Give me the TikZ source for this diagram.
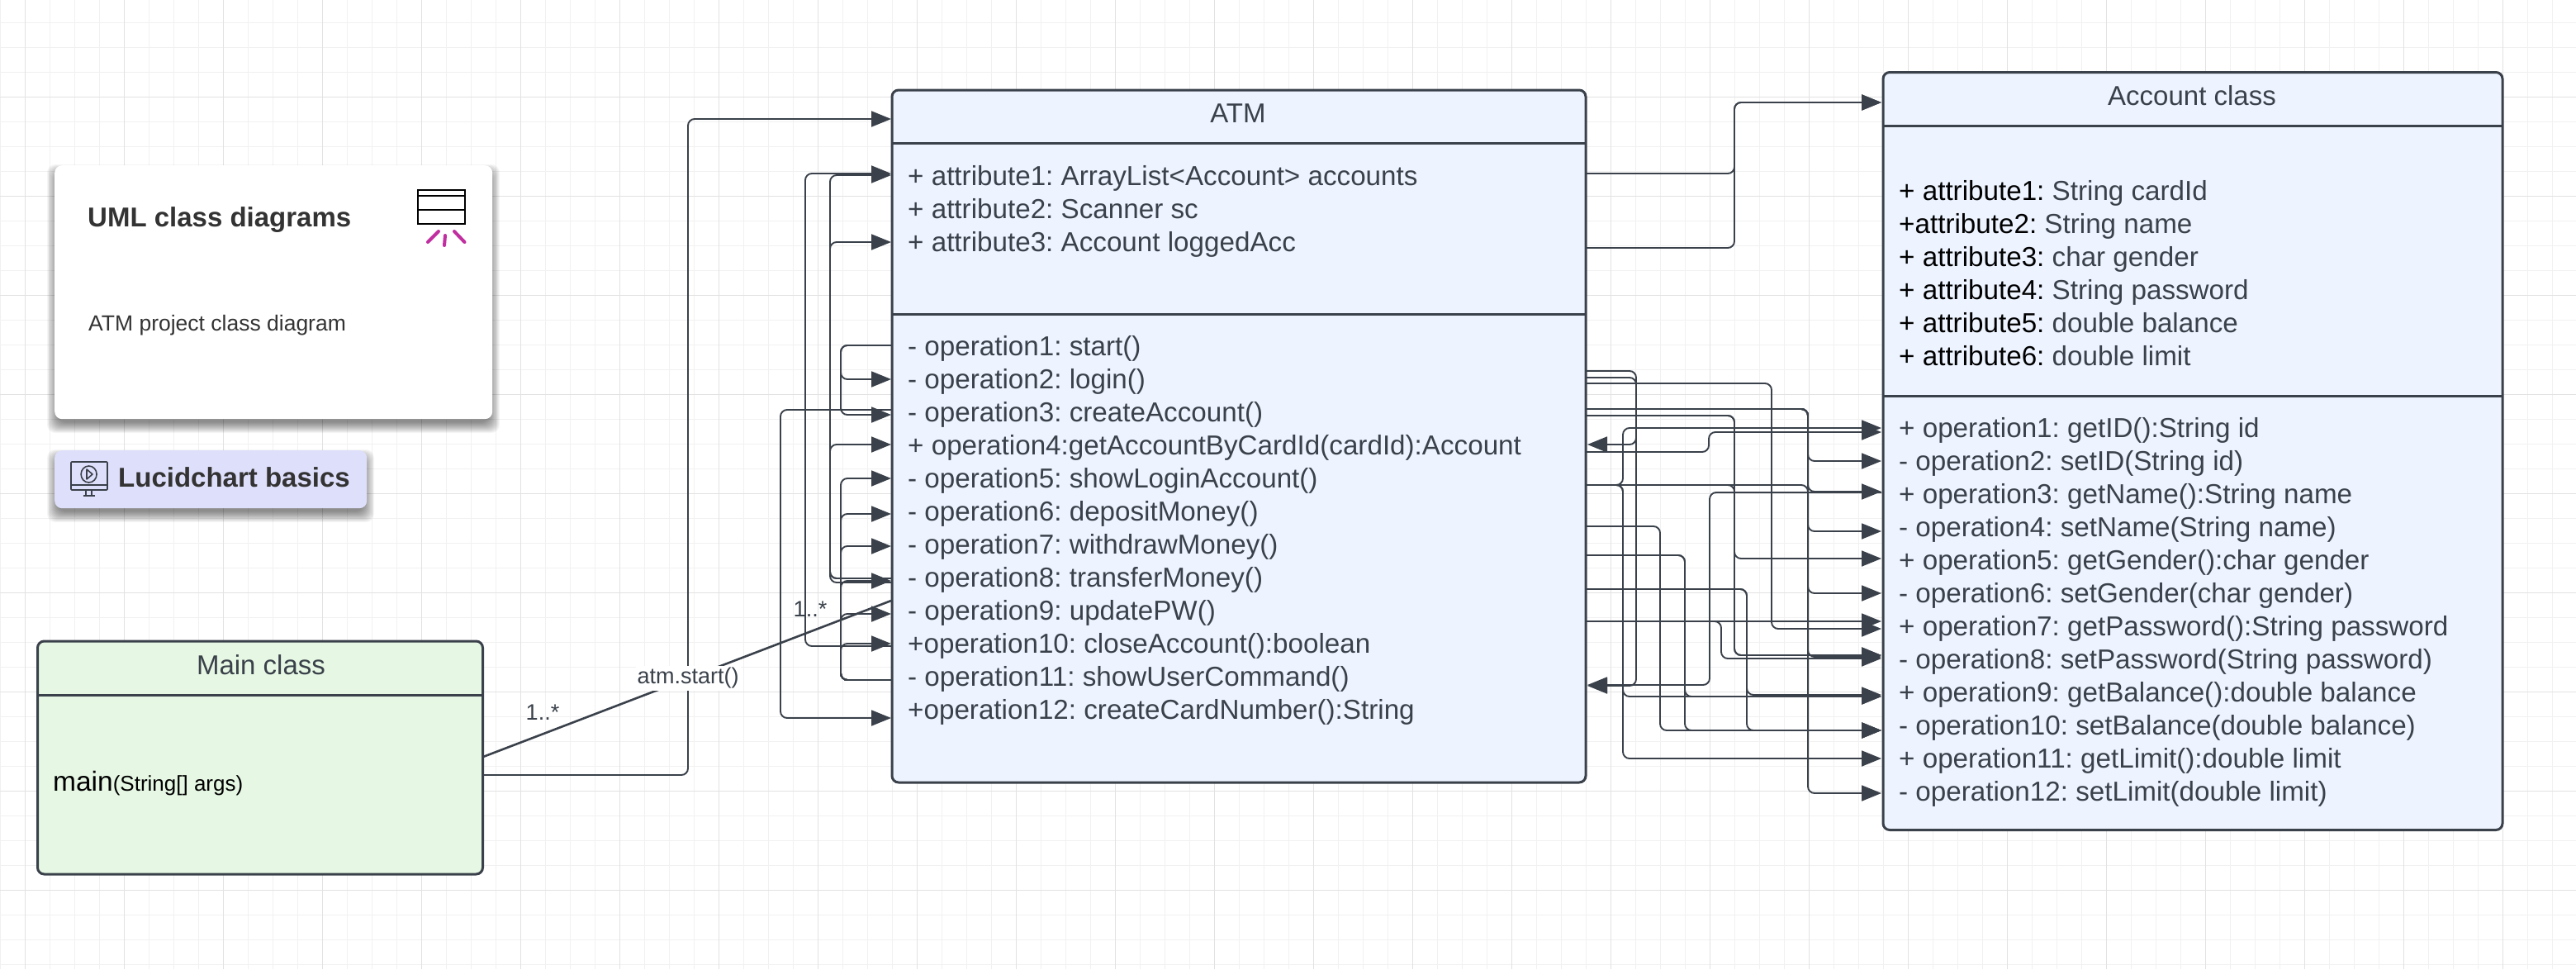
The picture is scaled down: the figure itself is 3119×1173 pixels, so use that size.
\documentclass[tikz,border=0pt]{standalone}
\usepackage{fontspec}
\setmainfont{Liberation Sans}
\frenchspacing
\usetikzlibrary{arrows.meta}
\definecolor{ink}{HTML}{3A414A}
\definecolor{gridmin}{HTML}{F1F1F1}
\definecolor{gridmaj}{HTML}{E2E2E2}
\definecolor{bluefill}{HTML}{EDF4FF}
\definecolor{greenfill}{HTML}{E6F8E4}
\definecolor{lavender}{HTML}{DEDFFA}
\definecolor{magentaish}{HTML}{C02EA0}
\definecolor{darktext}{HTML}{333333}
\newcommand{\fs}[1]{\fontsize{#1}{#1}\selectfont}
\newcommand{\softshadow}[4]{%
  \foreach \k in {0,...,13}{
    \pgfmathsetmacro{\e}{9-\k*1.0}
    \fill[black,fill opacity=.04,rounded corners=10pt]
      (#1-\e,#2-\e+8) rectangle (#3+\e,#4+\e+8);
  }}
\tikzset{
  classbox/.style={draw=ink,line width=3pt,rounded corners=8pt,anchor=north west,inner sep=0pt,outer sep=0pt},
  divider/.style={draw=ink,line width=3pt},
  rowtext/.style={anchor=base west,inner sep=0pt,text=ink,font=\fs{33.2}},
  titletext/.style={anchor=base,inner sep=0pt,text=ink,font=\fs{33}},
  conn/.style={draw=ink,line width=1.9pt,rounded corners=8pt},
  connar/.style={conn,-{Triangle[length=24pt,width=19pt]},fill=none},
  assoc/.style={draw=ink,line width=2.6pt},
  edgelabel/.style={inner sep=2pt,text=ink,font=\fs{27}},
}
\begin{document}
\begin{tikzpicture}[x=1pt,y=-1pt]
\useasboundingbox (0,0) rectangle (3119,1173);
\fill[white] (0,0) rectangle (3119,1173);
% grid
\foreach \x in {0.5,30.5,...,3110.5} \draw[gridmin,line width=1.2pt] (\x,0) -- (\x,1173);
\foreach \y in {27.3,57.3,...,1170} \draw[gridmin,line width=1.2pt] (0,\y) -- (3119,\y);
\foreach \x in {30.5,150.5,...,3110.5} \draw[gridmaj,line width=1.2pt] (\x,0) -- (\x,1173);
\foreach \y in {117.3,237.3,...,1170} \draw[gridmaj,line width=1.2pt] (0,\y) -- (3119,\y);
% info card
\softshadow{66}{200}{596}{507}
\node[fill=white,rounded corners=9pt,anchor=north west,minimum width=530pt,minimum height=307pt,inner sep=0pt] (card) at (66,200) {};
\node[anchor=base west,inner sep=0pt,text=darktext,font=\bfseries\fs{33}] (cardtitle) at (106,274) {UML class diagrams};
\node[anchor=base west,inner sep=0pt,text=darktext,font=\fs{26.5}] (cardsub) at (107,400) {ATM project class diagram};
\draw[black,line width=2.5pt] (506,230) rectangle (563,271);
\draw[black,line width=2.5pt] (506,237) -- (563,237) (506,254) -- (563,254);
\draw[magentaish,line width=4pt,line cap=round] (518,293) -- (531,280) (538,297) -- (539,285) (550,280) -- (562.5,293);
% tutorial button
\softshadow{66}{545}{444}{615}
\node[fill=lavender,rounded corners=9pt,anchor=north west,minimum width=378pt,minimum height=70pt,inner sep=0pt] (lucid) at (66,545) {};
\node[anchor=base west,inner sep=0pt,text=darktext,font=\bfseries\fs{33}] (lucidtext) at (143,589) {Lucidchart basics};
\begin{scope}[draw=ink,line width=1.6pt]
  \draw[rounded corners=1pt] (86,559) rectangle (130,593);
  \draw (86,587) -- (130,587);
  \draw (107.6,574) ellipse [x radius=9.5,y radius=10];
  \draw[line join=round] (105,568) -- (112,574) -- (105,580) -- cycle;
  \draw (104,593) -- (104,600) (111,593) -- (111,600) (101,600) -- (115,600);
\end{scope}
% class boxes
\node[classbox,fill=greenfill,minimum width=539pt,minimum height=282pt] (main) at (45.5,776) {};
\draw[divider] (main.west |- 0,841) -- (main.east |- 0,841);
\node[classbox,fill=bluefill,minimum width=840pt,minimum height=838pt] (atm) at (1080,109) {};
\draw[divider] (atm.west |- 0,173) -- (atm.east |- 0,173);
\draw[divider] (atm.west |- 0,380) -- (atm.east |- 0,380);
\node[classbox,fill=bluefill,minimum width=750pt,minimum height=917pt] (acct) at (2280,87.5) {};
\draw[divider] (acct.west |- 0,152) -- (acct.east |- 0,152);
\draw[divider] (acct.west |- 0,479) -- (acct.east |- 0,479);
% endpoints
\foreach \y in {144,210,212,293,418,459,496,502,538,579,622,661,700,703,705,727,743,779,782,823,869}
  \coordinate (L\y) at (1079,\y);
\foreach \y in {210,300,449,457,464,495,503,547,587,637,672,713,752}
  \coordinate (R\y) at (1921,\y);
\foreach \y in {538,829,830}
  \coordinate (T\y) at (1922,\y);
\foreach \y in {124,518,523,558,595,596,643,676,718,752,761,793,795,797,841,843,884,918,960}
  \coordinate (A\y) at (2278,\y);
\coordinate (M916) at (585,916);
\coordinate (M938) at (585,938);
% connectors into ATM
\draw[connar] (M938) -| (833,144) -- (L144);
\draw[assoc] (M916) -- (L727);
\draw[connar] (L782) -| (975,210) -- (L210);
\draw[connar] (L705) -| (1005,212) -- (L212);
\draw[connar] (L700) -| (1005,293) -- (L293);
\draw[connar] (L700) -| (1005,538) -- (L538);
\draw[connar] (L418) -| (1018,459) -- (L459);
\draw[connar] (L418) -| (1018,502) -- (L502);
\draw[connar] (L496) -| (945,869) -- (L869);
\foreach \y in {579,622,661,703,743,779}
  \draw[connar] (L823) -| (1018,\y) -- (L\y);
% connectors ATM - Account
\draw[connar] (R210) -| (2100,124) -- (A124);
\draw[connar] (R300) -| (2100,124) -- (A124);
\draw[connar] (R449) -| (1981,538) -- (T538);
\draw[connar] (R457) -| (1981,830) -- (T830);
\draw[connar] (A596) -| (2070,829) -- (T829);
\draw[connar] (R547) -| (2069,523) -- (A523);
\draw[connar] (R587) -| (1965,518) -- (A518);
\draw[connar] (R587) -| (2189,595) -- (A595);
\draw[connar] (R587) -| (1965,843) -- (A843);
\draw[connar] (R587) -| (1965,918) -- (A918);
\draw[connar] (R587) -| (2100,793) -- (A793);
\draw[connar] (R464) -| (2145,761) -- (A761);
\foreach \y in {558,643,718,795,960}
  \draw[connar] (R495) -| (2189,\y) -- (A\y);
\foreach \y in {676,793}
  \draw[connar] (R503) -| (2100,\y) -- (A\y);
\draw[connar] (R637) -| (2010,884) -- (A884);
\foreach \y in {843,884}
  \draw[connar] (R672) -| (2040,\y) -- (A\y);
\foreach \y in {841,884}
  \draw[connar] (R713) -| (2115,\y) -- (A\y);
\draw[connar] (R752) -- (A752);
\draw[connar] (R752) -| (2084,797) -- (A797);
% connector labels
\node[edgelabel,fill=white] (startlabel) at (833,821) {atm.start()};
\node[edgelabel] (mult1) at (657,862) {1..*};
\node[edgelabel] (mult2) at (981,737) {1..*};
% Main class text
\node[titletext] (maintitle) at (316,816) {Main class};
\node[anchor=base west,inner sep=0pt,text=black] (mainop) at (64,957) {\fs{33.5}main\fs{26}(String[] args)};
% ATM text
\node[titletext] (atmtitle) at (1499,148) {ATM};
\foreach \t [count=\i] in {{+ attribute1: ArrayList<Account> accounts},{+ attribute2: Scanner sc},{+ attribute3: Account loggedAcc}}
  \node[rowtext] (atmattr\i) at (1099,184+40*\i) {\t};
\foreach \t [count=\i] in {{- operation1: start()},{- operation2: login()},{- operation3: createAccount()},{+ operation4:getAccountByCardId(cardId):Account},{- operation5: showLoginAccount()},{- operation6: depositMoney()},{- operation7: withdrawMoney()},{- operation8: transferMoney()},{- operation9: updatePW()},{+operation10: closeAccount():boolean},{- operation11: showUserCommand()},{+operation12: createCardNumber():String}}
  \node[rowtext] (atmop\i) at (1099,390+40*\i) {\t};
% Account text
\node[titletext] (accttitle) at (2654,127) {Account class};
\foreach \a/\b [count=\i] in {{+ attribute1:}/{String cardId},{+attribute2:}/{String name},{+ attribute3:}/{char gender},{+ attribute4:}/{String password},{+ attribute5:}/{double balance},{+ attribute6:}/{double limit}}
  \node[rowtext] (acctattr\i) at (2299,202+40*\i) {{\color{black}\a} \b};
\foreach \t [count=\i] in {{+ operation1: getID():String id},{- operation2: setID(String id)},{+ operation3: getName():String name},{- operation4: setName(String name)},{+ operation5: getGender():char gender},{- operation6: setGender(char gender)},{+ operation7: getPassword():String password},{- operation8: setPassword(String password)},{+ operation9: getBalance():double balance},{- operation10: setBalance(double balance)},{+ operation11: getLimit():double limit},{- operation12: setLimit(double limit)}}
  \node[rowtext] (acctop\i) at (2299,489+40*\i) {\t};
\end{tikzpicture}
\end{document}
